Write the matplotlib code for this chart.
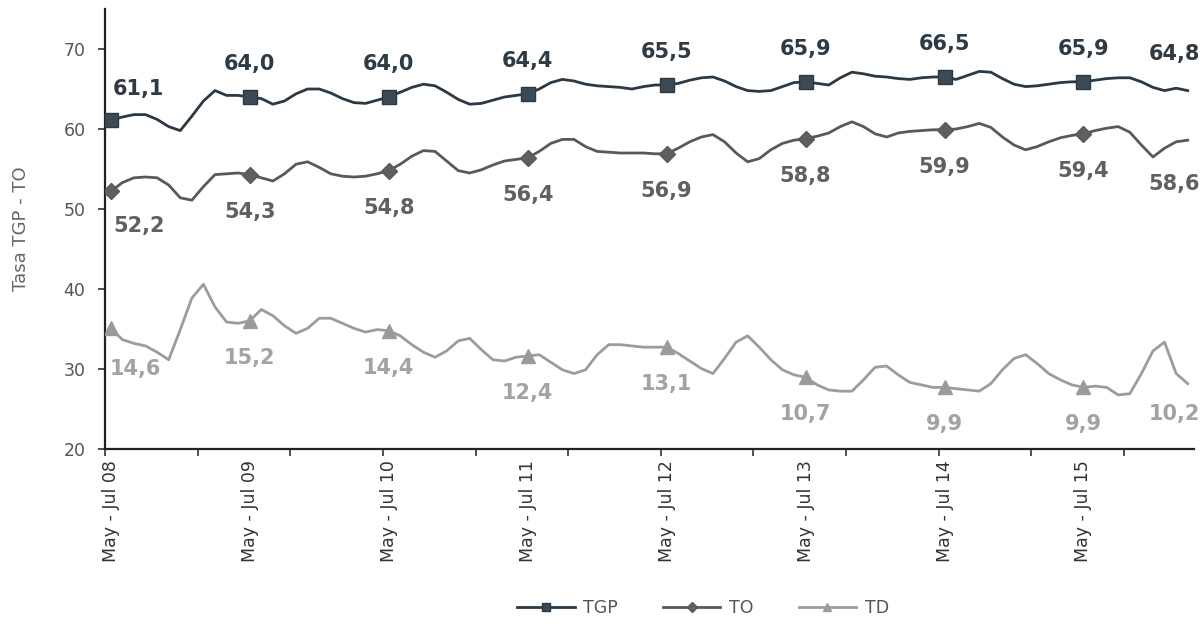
import numpy as np
import matplotlib
matplotlib.use("Agg")
import matplotlib.pyplot as plt
from matplotlib.lines import Line2D

plt.rcParams["font.family"] = ["DejaVu Sans"]

W, H, DPI = 1201, 634, 100

# monthly moving quarters, May-Jul 08 .. Feb-Apr 16
TGP = [61.1, 61.5, 61.8, 61.8, 61.2, 60.3, 59.8, 61.6, 63.5, 64.8,
       64.2, 64.2, 64.0, 63.8, 63.1, 63.5, 64.4, 65.0, 65.0, 64.5,
       63.8, 63.3, 63.2, 63.6, 64.0, 64.6, 65.2, 65.6, 65.4, 64.6,
       63.7, 63.1, 63.2, 63.6, 64.0, 64.2, 64.4, 65.0, 65.8, 66.2,
       66.0, 65.6, 65.4, 65.3, 65.2, 65.0, 65.3, 65.5, 65.5, 65.7,
       66.1, 66.4, 66.5, 66.0, 65.3, 64.8, 64.7, 64.8, 65.3, 65.8,
       65.9, 65.7, 65.5, 66.4, 67.1, 66.9, 66.6, 66.5, 66.3, 66.2,
       66.4, 66.5, 66.5, 66.2, 66.7, 67.2, 67.1, 66.3, 65.6, 65.3,
       65.4, 65.6, 65.8, 65.9, 65.9, 66.1, 66.3, 66.4, 66.4, 65.9,
       65.2, 64.8, 65.1, 64.8]
TO = [52.2, 53.3, 53.9, 54.0, 53.9, 53.0, 51.4, 51.1, 52.8, 54.3,
      54.4, 54.5, 54.3, 53.9, 53.5, 54.4, 55.6, 55.9, 55.2, 54.4,
      54.1, 54.0, 54.1, 54.4, 54.8, 55.6, 56.6, 57.3, 57.2, 56.0,
      54.8, 54.5, 54.9, 55.5, 56.0, 56.2, 56.4, 57.2, 58.2, 58.7,
      58.7, 57.8, 57.2, 57.1, 57.0, 57.0, 57.0, 56.9, 56.9, 57.6,
      58.4, 59.0, 59.3, 58.4, 57.0, 55.9, 56.3, 57.4, 58.2, 58.6,
      58.8, 59.1, 59.5, 60.3, 60.9, 60.3, 59.4, 59.0, 59.5, 59.7,
      59.8, 59.9, 59.9, 60.0, 60.3, 60.7, 60.2, 59.0, 58.0, 57.4,
      57.8, 58.4, 58.9, 59.2, 59.4, 59.8, 60.1, 60.3, 59.6, 58.0,
      56.5, 57.6, 58.4, 58.6]
TD = [14.6, 13.7, 13.4, 13.2, 12.7, 12.1, 14.5, 17.0, 18.1, 16.3,
      15.1, 15.0, 15.2, 16.1, 15.6, 14.8, 14.2, 14.6, 15.4, 15.4,
      15.0, 14.6, 14.3, 14.5, 14.4, 14.0, 13.3, 12.7, 12.3, 12.8,
      13.6, 13.8, 12.9, 12.1, 12.0, 12.3, 12.4, 12.5, 11.9, 11.3,
      11.0, 11.3, 12.5, 13.3, 13.3, 13.2, 13.1, 13.1, 13.1, 12.6,
      12.0, 11.4, 11.0, 12.2, 13.5, 14.0, 13.1, 12.1, 11.3, 10.9,
      10.7, 10.1, 9.7, 9.6, 9.6, 10.5, 11.5, 11.6, 10.9, 10.3,
      10.1, 9.9, 9.9, 9.8, 9.7, 9.6, 10.2, 11.3, 12.2, 12.5,
      11.8, 11.0, 10.5, 10.1, 9.9, 10.0, 9.9, 9.3, 9.4, 11.0,
      12.8, 13.5, 11.0, 10.2]

MARK_AT = [0, 12, 24, 36, 48, 60, 72, 84]
LABEL_AT = MARK_AT + [93]
XTICK_POS = [0, 12, 24, 36, 48, 60, 72, 84]
XTICK_LABELS = ["May - Jul 08", "May - Jul 09", "May - Jul 10", "May - Jul 11",
                "May - Jul 12", "May - Jul 13", "May - Jul 14", "May - Jul 15"]

C_TGP = "#2c3943"
C_TO = "#595959"
C_TD = "#9c9c9c"


def fmt(v):
    return f"{v:.1f}".replace(".", ",")


def add_labels(ax, vals, color, first, other, last):
    # first label pushed right of the axis, last one kept inside the canvas
    for i in LABEL_AT:
        if i == LABEL_AT[0]:
            off, ha = first, "center"
        elif i == LABEL_AT[-1]:
            off, ha = last, "right"
        else:
            off, ha = other, "center"
        ax.annotate(fmt(vals[i]), xy=(i, vals[i]), xytext=off,
                    textcoords="offset pixels", ha=ha, va="center",
                    fontsize=15, fontweight="bold", color=color,
                    annotation_clip=False, clip_on=False, zorder=5)


fig = plt.figure(figsize=(W / DPI, H / DPI), dpi=DPI)
ax = fig.add_axes([105 / W, 1 - 449 / H, 1088.5 / W, 440 / H])
ax2 = ax.twinx()

x = np.arange(len(TGP))
ax.plot(x, TGP, color=C_TGP, lw=2.0, marker="s", markevery=MARK_AT, ms=10,
        mfc="#3b4a56", mec=C_TGP, zorder=3)
ax.plot(x, TO, color=C_TO, lw=2.0, marker="D", markevery=MARK_AT, ms=8.5,
        mfc="#5f5f5f", mec=C_TO, zorder=3)
ax2.plot(x, TD, color=C_TD, lw=2.0, marker="^", markevery=MARK_AT, ms=10,
         mfc="#9a9a9a", mec=C_TD, zorder=3)

ax.set_xlim(-0.5, len(TGP) - 0.5)
ax.set_ylim(20, 75)
ax2.set_ylim(5, 40)

add_labels(ax, TGP, "#2f3b44", (28, 31), (0, 33), (12, 37))
add_labels(ax, TO, "#606060", (28, -35), (0, -37), (12, -44))
add_labels(ax2, TD, "#a3a3a3", (25, -41), (0, -37), (12, -30))

for s in ["top", "right"]:
    ax.spines[s].set_visible(False)
for s in ax2.spines.values():
    s.set_visible(False)
for s in ["left", "bottom"]:
    ax.spines[s].set_color("#222222")
    ax.spines[s].set_linewidth(1.6)
ax2.set_yticks([])

ax.set_yticks([20, 30, 40, 50, 60, 70])
ax.tick_params(axis="y", direction="out", length=5, width=1.2, color="#333333",
               labelsize=12.5, labelcolor="#555555", pad=9)
ax.set_xticks(XTICK_POS)
ax.set_xticklabels(XTICK_LABELS, rotation=90)
ax.set_xticks(np.arange(-0.5, len(TGP), 8), minor=True)
ax.tick_params(axis="x", which="major", length=0, labelsize=12.5,
               labelcolor="#333333", pad=8)
ax.tick_params(axis="x", which="minor", direction="out", length=5, width=1.2,
               color="#333333")

ax.set_ylabel("Tasa TGP - TO", fontsize=13, color="#666666")
ax.yaxis.set_label_coords(-0.069, 0.5)

handles = [
    Line2D([], [], color=C_TGP, lw=2, marker="s", ms=6, mfc="#3b4a56"),
    Line2D([], [], color=C_TO, lw=2, marker="D", ms=5, mfc="#5f5f5f"),
    Line2D([], [], color=C_TD, lw=2, marker="^", ms=6, mfc="#9a9a9a"),
]
fig.legend(handles, ["TGP", "TO", "TD"], loc="center",
           bbox_to_anchor=(703 / W, 1 - 608 / H), ncol=3, frameon=False,
           fontsize=12.5, labelcolor="#555555", handlelength=3.3,
           handletextpad=0.5, columnspacing=2.6)

fig.savefig("out.png", dpi=DPI, facecolor="white")
